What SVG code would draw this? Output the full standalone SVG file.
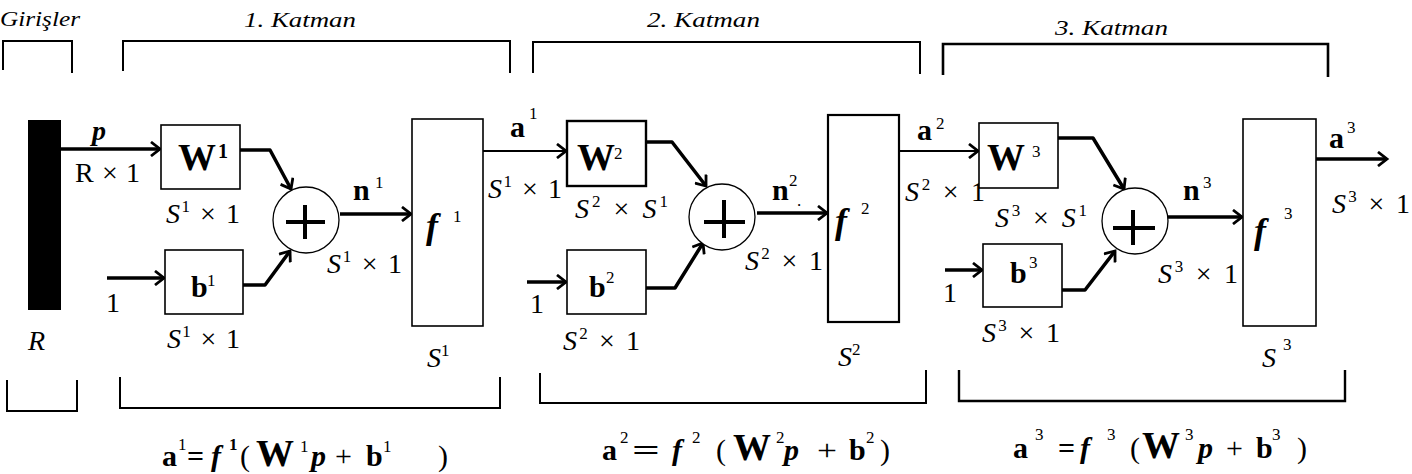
<svg xmlns="http://www.w3.org/2000/svg" width="1412" height="474" viewBox="0 0 1412 474">
<style>
text{font-family:"Liberation Serif","Times New Roman",serif;fill:#000}
.it{font-style:italic}
.b{font-weight:bold}
.bi{font-weight:bold;font-style:italic}
.hd{font-size:21px;font-style:italic}
.dim{font-size:28px}
.sp{font-size:17px}
.fm{font-size:30px}
.box{fill:#fff;stroke:#000;stroke-width:1.6}
.brk{fill:none;stroke:#000;stroke-width:2}
.ln{fill:none;stroke:#000;stroke-width:3.5;stroke-linejoin:round}
.thin{stroke-width:2.2}
.plus{stroke:#000;stroke-width:4}
.sum{fill:#fff;stroke:#000;stroke-width:1.3}
</style>
<defs>
<marker id="ah" markerUnits="userSpaceOnUse" markerWidth="14" markerHeight="16" refX="11" refY="8" orient="auto">
<path d="M2,1 L11,8 L2,15" fill="none" stroke="#000" stroke-width="2.8"/>
</marker>
</defs>
<rect width="1412" height="474" fill="#fff"/>

<g id="headers">
<text class="hd" x="0" y="26" textLength="80" lengthAdjust="spacingAndGlyphs">Girişler</text>
<text class="hd" x="244" y="27" textLength="112" lengthAdjust="spacingAndGlyphs">1. Katman</text>
<text class="hd" x="647" y="27" textLength="113" lengthAdjust="spacingAndGlyphs">2. Katman</text>
<text class="hd" x="1055" y="35" textLength="113" lengthAdjust="spacingAndGlyphs">3. Katman</text>
<polyline class="brk" points="3,70 3,41 72,41 72,73"/>
<polyline class="brk" points="123,71 123,41 510,41 510,73"/>
<polyline class="brk" points="533,73 533,42 920,42 920,74"/>
<polyline class="brk" points="943,75 943,44 1328,44 1328,77" style="stroke-width:2.6"/>
<polyline class="brk" points="7,380 7,411 77,411 77,380"/>
<polyline class="brk" points="120,377 120,408 500,408 500,377"/>
<polyline class="brk" points="540,373 540,403 926,403 926,370"/>
<polyline class="brk" points="959,370 959,401 1345,401 1345,370" style="stroke-width:2.4"/>
</g>

<g id="connectors">
<line class="ln" x1="61" y1="149" x2="160" y2="149" marker-end="url(#ah)"/>
<line class="ln" x1="107" y1="278" x2="164" y2="278" marker-end="url(#ah)"/>
<polyline class="ln" points="240,150 270,150 291,189" marker-end="url(#ah)"/>
<polyline class="ln" points="243,285 265,285 290,251" marker-end="url(#ah)"/>
<line class="ln" x1="340" y1="214" x2="411" y2="214" marker-end="url(#ah)"/>
<line class="ln thin" x1="483" y1="151" x2="566" y2="151" marker-end="url(#ah)"/>
<line class="ln" x1="527" y1="282" x2="566" y2="282" marker-end="url(#ah)"/>
<polyline class="ln" points="646,142 672,142 706,186" marker-end="url(#ah)"/>
<polyline class="ln" points="646,288 675,288 703,243" marker-end="url(#ah)"/>
<line class="ln" x1="757" y1="213" x2="827" y2="213" marker-end="url(#ah)"/>
<line class="ln thin" x1="899" y1="151" x2="978" y2="151" marker-end="url(#ah)"/>
<line class="ln" x1="945" y1="270" x2="982" y2="270" marker-end="url(#ah)"/>
<polyline class="ln" points="1058,138 1093,138 1124,189" marker-end="url(#ah)"/>
<polyline class="ln" points="1062,290 1085,290 1115,251" marker-end="url(#ah)"/>
<line class="ln" x1="1168" y1="217" x2="1242" y2="217" marker-end="url(#ah)"/>
<line class="ln" x1="1316" y1="159" x2="1387" y2="159" marker-end="url(#ah)"/>
</g>

<g id="input">
<rect x="28" y="120" width="33" height="190" fill="#000"/>
<text class="bi" x="92" y="140" font-size="28">p</text>
<text class="dim" x="75" y="182" textLength="65">R × 1</text>
<text class="dim it" x="28" y="350">R</text>
</g>

<g id="W1">
<rect class="box" x="161" y="125" width="79" height="64"/>
<text class="b" x="178" y="170" font-size="38">W</text>
<text class="b" x="218" y="158" font-size="20">1</text>
<text class="dim" x="166" y="223" textLength="74"><tspan class="it">S</tspan><tspan class="sp" dy="-11">1</tspan><tspan dy="11"> × 1</tspan></text>
</g>

<g id="b1">
<rect class="box" x="165" y="250" width="78" height="64"/>
<text class="b" x="191" y="297" font-size="30">b</text>
<text class="sp" x="207" y="286" font-size="19">1</text>
<text class="dim" x="106" y="312">1</text>
<text class="dim" x="167" y="348" textLength="73"><tspan class="it">S</tspan><tspan class="sp" dy="-11">1</tspan><tspan dy="11"> × 1</tspan></text>
</g>

<g id="sum1">
<circle class="sum" cx="306" cy="220" r="33"/>
<line class="plus" x1="286" y1="222" x2="325" y2="222"/>
<line class="plus" x1="305" y1="205" x2="305" y2="239"/>
<text class="b" x="353" y="200" font-size="30">n</text>
<text class="sp" x="375" y="188" font-size="19">1</text>
<text class="dim" x="327" y="273" textLength="75"><tspan class="it">S</tspan><tspan class="sp" dy="-11">1</tspan><tspan dy="11"> × 1</tspan></text>
</g>

<g id="f1">
<rect class="box" x="412" y="119" width="71" height="207"/>
<text class="bi" x="426" y="238" font-size="36">f</text>
<text class="sp" x="453" y="222" font-size="19">1</text>
<text class="dim" x="427" y="367"><tspan class="it">S</tspan><tspan class="sp" dy="-11">1</tspan></text>
<text class="b" x="510" y="137" font-size="30">a</text>
<text class="sp" x="529" y="119">1</text>
<text class="dim" x="488" y="198" textLength="74"><tspan class="it">S</tspan><tspan class="sp" dy="-11">1</tspan><tspan dy="11"> × 1</tspan></text>
</g>

<g id="W2">
<rect class="box" x="567" y="121" width="79" height="65" style="stroke-width:2.4"/>
<text class="b" x="577" y="170" font-size="38">W</text>
<text class="sp" x="614" y="159" font-size="20">2</text>
<text class="dim" x="575" y="218" textLength="93"><tspan class="it">S</tspan><tspan class="sp" dy="-11">2</tspan><tspan dy="11"> × </tspan><tspan class="it">S</tspan><tspan class="sp" dy="-11">1</tspan></text>
</g>

<g id="b2">
<rect class="box" x="567" y="250" width="79" height="64"/>
<text class="b" x="589" y="297" font-size="30">b</text>
<text class="sp" x="606" y="283" font-size="19">2</text>
<text class="dim" x="530" y="313">1</text>
<text class="dim" x="563" y="350" textLength="77"><tspan class="it">S</tspan><tspan class="sp" dy="-11">2</tspan><tspan dy="11"> × 1</tspan></text>
</g>

<g id="sum2">
<circle class="sum" cx="722" cy="217" r="33"/>
<line class="plus" x1="704" y1="222" x2="745" y2="222"/>
<line class="plus" x1="724" y1="200" x2="724" y2="238"/>
<text class="b" x="772" y="200" font-size="30">n</text>
<text class="sp" x="789" y="186" font-size="19">2</text>
<text class="sp" x="797" y="206" font-size="12">.</text>
<text class="dim" x="745" y="270" textLength="78"><tspan class="it">S</tspan><tspan class="sp" dy="-11">2</tspan><tspan dy="11"> × 1</tspan></text>
</g>

<g id="f2">
<rect class="box" x="828" y="115" width="71" height="207" style="stroke-width:2.2"/>
<text class="bi" x="835" y="233" font-size="36">f</text>
<text class="sp" x="861" y="214" font-size="19">2</text>
<text class="dim" x="838" y="366"><tspan class="it">S</tspan><tspan class="sp" dy="-11">2</tspan></text>
<text class="b" x="917" y="140" font-size="30">a</text>
<text class="sp" x="936" y="129" font-size="19">2</text>
<text class="dim" x="905" y="201" textLength="80"><tspan class="it">S</tspan><tspan class="sp" dy="-11">2</tspan><tspan dy="11"> × 1</tspan></text>
</g>

<g id="W3">
<rect class="box" x="979" y="123" width="79" height="65"/>
<text class="b" x="987" y="170" font-size="38">W</text>
<text class="sp" x="1032" y="157" font-size="20">3</text>
<text class="dim" x="995" y="227" textLength="92"><tspan class="it">S</tspan><tspan class="sp" dy="-11">3</tspan><tspan dy="11"> × </tspan><tspan class="it">S</tspan><tspan class="sp" dy="-11">1</tspan></text>
</g>

<g id="b3">
<rect class="box" x="983" y="244" width="79" height="63"/>
<text class="b" x="1010" y="283" font-size="30">b</text>
<text class="sp" x="1029" y="268" font-size="19">3</text>
<text class="dim" x="943" y="302">1</text>
<text class="dim" x="982" y="342" textLength="78"><tspan class="it">S</tspan><tspan class="sp" dy="-11">3</tspan><tspan dy="11"> × 1</tspan></text>
</g>

<g id="sum3">
<circle class="sum" cx="1135" cy="221" r="33"/>
<line class="plus" x1="1113" y1="228" x2="1155" y2="228"/>
<line class="plus" x1="1133" y1="210" x2="1133" y2="245"/>
<text class="b" x="1183" y="200" font-size="30">n</text>
<text class="sp" x="1203" y="188" font-size="19">3</text>
<text class="dim" x="1158" y="283" textLength="80"><tspan class="it">S</tspan><tspan class="sp" dy="-11">3</tspan><tspan dy="11"> × 1</tspan></text>
</g>

<g id="f3">
<rect class="box" x="1243" y="119" width="73" height="207"/>
<text class="bi" x="1254" y="243" font-size="36">f</text>
<text class="sp" x="1284" y="219" font-size="19">3</text>
<text class="dim it" x="1262" y="367">S</text>
<text class="sp" x="1283" y="350" font-size="19">3</text>
<text class="b" x="1329" y="148" font-size="30">a</text>
<text class="sp" x="1347" y="133" font-size="19">3</text>
<text class="dim" x="1332" y="213" textLength="78"><tspan class="it">S</tspan><tspan class="sp" dy="-11">3</tspan><tspan dy="11"> × 1</tspan></text>
</g>

<g id="formulas">
<text class="fm b" x="162" y="466">a</text><text class="sp" x="178" y="450">1</text>
<text class="fm b" x="187" y="466">=</text>
<text class="fm bi" x="211" y="466">f</text><text class="sp b" x="229" y="450" font-size="18">1</text>
<text class="fm" x="240" y="466">(</text>
<text class="fm b" x="256" y="466" style="font-size:38px">W</text><text class="sp" x="300" y="452">1</text>
<text class="fm bi" x="311" y="466">p</text>
<text class="fm" x="335" y="466">+</text>
<text class="fm b" x="366" y="466">b</text><text class="sp" x="383" y="452">1</text>
<text class="fm" x="438" y="466">)</text>

<text class="fm b" x="602" y="460">a</text><text class="sp" x="620" y="443">2</text>
<text class="fm b" x="632" y="460" textLength="28" lengthAdjust="spacingAndGlyphs">=</text>
<text class="fm bi" x="672" y="460">f</text><text class="sp" x="692" y="443">2</text>
<text class="fm" x="716" y="460">(</text>
<text class="fm b" x="733" y="460" style="font-size:38px">W</text><text class="sp" x="776" y="443">2</text>
<text class="fm bi" x="784" y="460">p</text>
<text class="fm" x="817" y="460" textLength="20" lengthAdjust="spacingAndGlyphs">+</text>
<text class="fm b" x="849" y="460">b</text><text class="sp" x="866" y="443">2</text>
<text class="fm" x="880" y="460">)</text>

<text class="fm b" x="1013" y="458">a</text><text class="sp" x="1035" y="440">3</text>
<text class="fm b" x="1058" y="458">=</text>
<text class="fm bi" x="1080" y="458">f</text><text class="sp" x="1107" y="440">3</text>
<text class="fm" x="1130" y="458">(</text>
<text class="fm b" x="1142" y="458" style="font-size:38px">W</text><text class="sp" x="1185" y="440">3</text>
<text class="fm bi" x="1198" y="458">p</text>
<text class="fm" x="1226" y="458">+</text>
<text class="fm b" x="1256" y="458">b</text><text class="sp" x="1272" y="440">3</text>
<text class="fm" x="1297" y="458">)</text>
</g>
</svg>
